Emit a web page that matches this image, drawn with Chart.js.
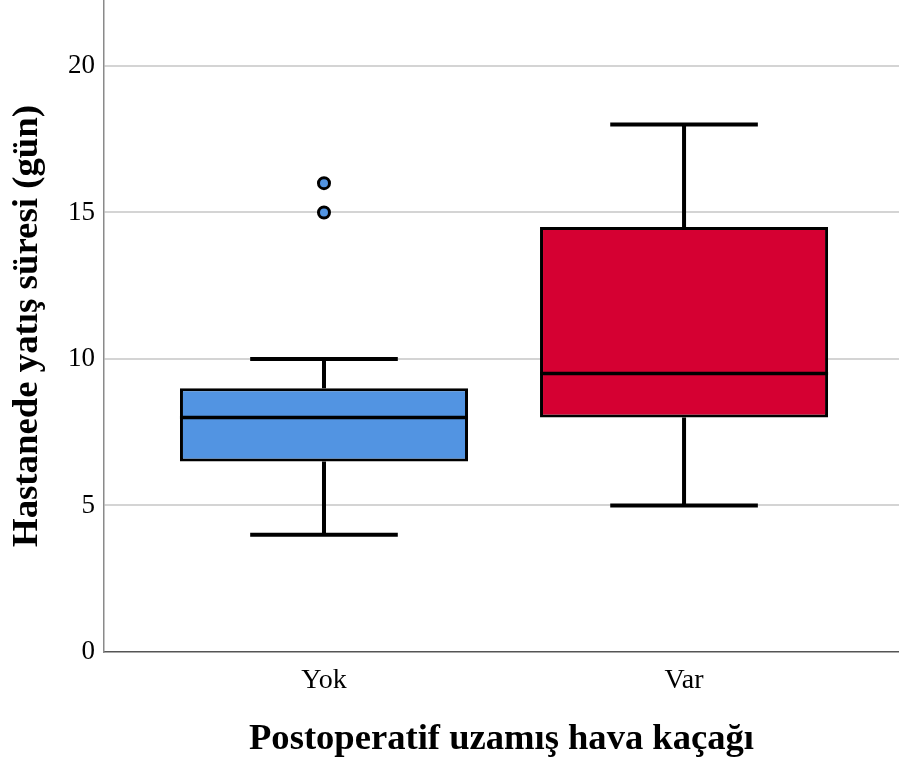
<!DOCTYPE html>
<html lang="tr">
<head>
    <meta charset="UTF-8">
    <title>Hastanede yatış süresi</title>
    <script src="https://cdn.jsdelivr.net/npm/chart.js"></script>
    <style>
        body { margin: 0; background: #fff; }
        #wrap { width: 899px; height: 769px; }
    </style>
</head>
<body>
    <div id="wrap"><canvas id="chart"></canvas></div>

    <script>
        // Veriler
        const categories = ['Yok', 'Var'];
        const whiskerLow = [4, 5];
        const q1 = [6.5, 8];
        const median = [8, 9.5];
        const q3 = [9, 14.5];
        const whiskerHigh = [10, 18];
        const outlierCat = [0, 0];
        const outlierVal = [15, 16];
        const yTicks = [0, 5, 10, 15, 20];

        const boxColors = ['#5294e2', '#d50032'];
        const serif = '"Liberation Serif", "Times New Roman", serif';

        // Bıyıklar ve medyan çizgileri
        const whiskerPlugin = {
            id: 'whiskers',
            afterDatasetsDraw(chart) {
                const x = chart.scales.x, y = chart.scales.y, ctx = chart.ctx;
                ctx.save();
                ctx.strokeStyle = '#000';
                ctx.lineCap = 'butt';
                categories.forEach((c, i) => {
                    const cx = x.getPixelForValue(i);
                    ctx.lineWidth = 4;
                    ctx.beginPath();
                    ctx.moveTo(cx, y.getPixelForValue(whiskerLow[i]));
                    ctx.lineTo(cx, y.getPixelForValue(q1[i]));
                    ctx.moveTo(cx, y.getPixelForValue(q3[i]));
                    ctx.lineTo(cx, y.getPixelForValue(whiskerHigh[i]));
                    [whiskerLow[i], whiskerHigh[i]].forEach(v => {
                        ctx.moveTo(x.getPixelForValue(i - 0.205), y.getPixelForValue(v));
                        ctx.lineTo(x.getPixelForValue(i + 0.205), y.getPixelForValue(v));
                    });
                    ctx.stroke();
                    ctx.lineWidth = 3.5;
                    ctx.beginPath();
                    ctx.moveTo(x.getPixelForValue(i - 0.4), y.getPixelForValue(median[i]));
                    ctx.lineTo(x.getPixelForValue(i + 0.4), y.getPixelForValue(median[i]));
                    ctx.stroke();
                });
                ctx.restore();
            }
        };

        new Chart(document.getElementById('chart'), {
            type: 'bar',
            data: {
                datasets: [{
                    type: 'scatter',
                    data: outlierVal.map((v, i) => ({ x: outlierCat[i], y: v })),
                    backgroundColor: boxColors[0],
                    borderColor: '#000',
                    borderWidth: 3,
                    pointRadius: 5.5,
                    order: 0
                }, {
                    data: categories.map((c, i) => ({ x: i, y: [q1[i], q3[i]] })),
                    backgroundColor: boxColors,
                    borderColor: '#000',
                    borderWidth: 3,
                    borderSkipped: false,
                    barPercentage: 0.8,
                    categoryPercentage: 1,
                    grouped: false,
                    order: 1
                }]
            },
            options: {
                responsive: true,
                maintainAspectRatio: false,
                animation: false,
                layout: { padding: 0, autoPadding: false },
                plugins: { legend: { display: false }, tooltip: { enabled: false } },
                scales: {
                    x: {
                        type: 'linear',
                        offset: false,
                        min: -0.611,
                        max: 1.597,
                        afterBuildTicks: s => { s.ticks = categories.map((c, i) => ({ value: i })); },
                        afterFit: s => { s.height = 117; s.paddingLeft = 0; s.paddingRight = 0; },
                        ticks: {
                            callback: v => categories[v],
                            color: '#000',
                            padding: 12,
                            maxRotation: 0,
                            font: { family: serif, size: 28 }
                        },
                        grid: { display: false, drawTicks: false },
                        border: { color: '#555', width: 1.5 },
                        title: {
                            display: true,
                            text: 'Postoperatif uzamış hava kaçağı',
                            color: '#000',
                            padding: { top: 0, bottom: 7 },
                            font: { family: serif, size: 36.6, weight: 'bold' }
                        }
                    },
                    y: {
                        min: 0,
                        max: 22.25,
                        afterBuildTicks: s => { s.ticks = yTicks.map(v => ({ value: v })); },
                        afterFit: s => { s.width = 104; s.paddingTop = 0; s.paddingBottom = 0; },
                        ticks: {
                            color: '#000',
                            padding: 9,
                            font: { family: serif, size: 27 }
                        },
                        grid: {
                            color: ctx => ctx.tick && ctx.tick.value === 0 ? 'rgba(0,0,0,0)' : '#d4d4d4',
                            lineWidth: 2,
                            drawTicks: false
                        },
                        border: { color: '#8a8a8a', width: 1.5 },
                        title: {
                            display: true,
                            text: 'Hastanede yatış süresi (gün)',
                            color: '#000',
                            padding: { top: 5, bottom: 0 },
                            font: { family: serif, size: 36.8, weight: 'bold' }
                        }
                    }
                }
            },
            plugins: [whiskerPlugin]
        });
    </script>
</body>
</html>
